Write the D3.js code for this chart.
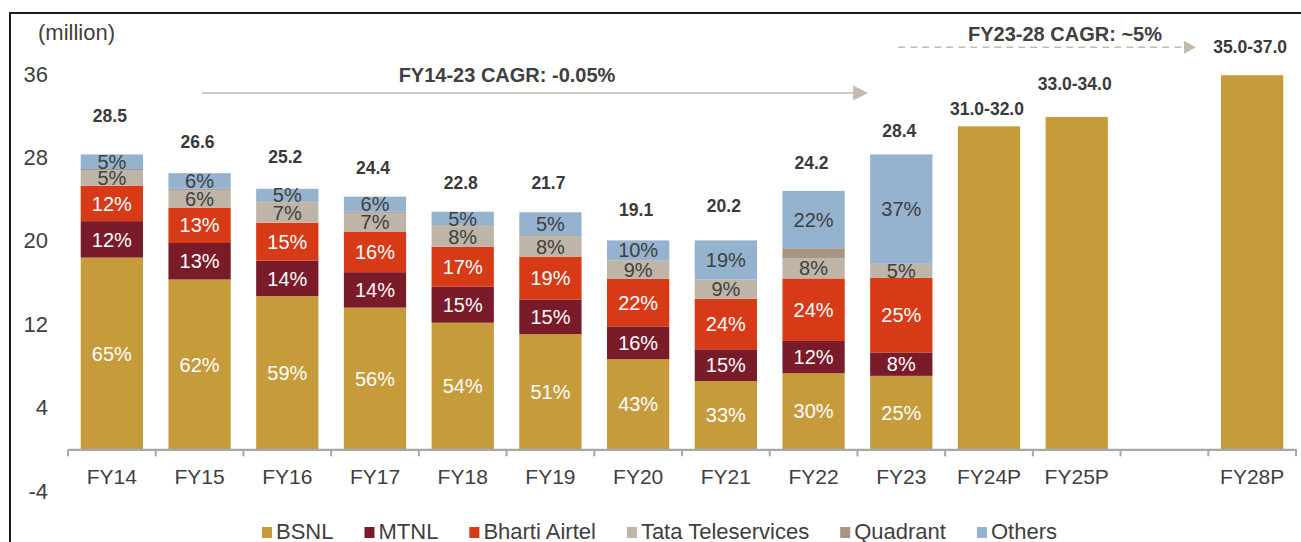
<!DOCTYPE html>
<html>
<head>
<meta charset="utf-8">
<script src="https://cdn.jsdelivr.net/npm/d3@7"></script>
<style>
html, body { margin: 0; padding: 0; background: #fff; }
svg { display: block; font-family: "Liberation Sans", Arial, Helvetica, sans-serif; }
</style>
</head>
<body>
<svg id="chart" width="1301" height="542"></svg>
<script>
// ---------------- DATA ----------------
const categories = ["FY14","FY15","FY16","FY17","FY18","FY19","FY20","FY21","FY22","FY23","FY24P","FY25P","","FY28P"];
const actualYears = ["FY14","FY15","FY16","FY17","FY18","FY19","FY20","FY21","FY22","FY23"];
const seriesNames = ["BSNL","MTNL","Bharti Airtel","Tata Teleservices","Quadrant","Others"];

// subscribers, million
const bsnl     = [18.4, 16.3, 14.7, 13.6, 12.15, 11.05, 8.65, 6.55, 7.3, 7.05];
const mtnl     = [3.5, 3.5, 3.4, 3.4, 3.45, 3.3, 3.15, 3.05, 3.1, 2.25];
const airtel   = [3.4, 3.4, 3.65, 3.9, 3.85, 4.15, 4.55, 4.85, 6.0, 7.15];
const tata     = [1.5, 1.7, 1.95, 1.8, 1.95, 1.95, 1.8, 1.85, 1.95, 1.35];
const quadrant = [0.1, 0.1, 0.1, 0.1, 0.1, 0.1, 0, 0, 0.95, 0];
const others   = [1.4, 1.5, 1.2, 1.45, 1.3, 2.2, 1.9, 3.75, 5.5, 10.5];

// share labels (%)
const bsnlPct     = [65, 62, 59, 56, 54, 51, 43, 33, 30, 25];
const mtnlPct     = [12, 13, 14, 14, 15, 15, 16, 15, 12, 8];
const airtelPct   = [12, 13, 15, 16, 17, 19, 22, 24, 24, 25];
const tataPct     = [5, 6, 7, 7, 8, 8, 9, 9, 8, 5];
const quadrantPct = [null, null, null, null, null, null, null, null, null, null];
const othersPct   = [5, 6, 5, 6, 5, 5, 10, 19, 22, 37];

const projYears  = ["FY24P","FY25P","FY28P"];
const projValues = [31.0, 31.9, 35.9];

const totalYears  = ["FY14","FY15","FY16","FY17","FY18","FY19","FY20","FY21","FY22","FY23","FY24P","FY25P","FY28P"];
const totalLabels = ["28.5","26.6","25.2","24.4","22.8","21.7","19.1","20.2","24.2","28.4","31.0-32.0","33.0-34.0","35.0-37.0"];

const yTicks = [-4, 4, 12, 20, 28, 36];
const yUnit = "(million)";
const cagrPast = "FY14-23 CAGR: -0.05%";
const cagrFuture = "FY23-28 CAGR: ~5%";

// ---------------- STYLE / LAYOUT ----------------
const colors = ["#C69B3C", "#7A1B2A", "#D73A16", "#BEB5A8", "#A89583", "#95B3CE"];
const labelColors = ["#ffffff", "#ffffff", "#ffffff", "#404040", "#404040", "#404040"];
const textColor = "#404040";
const labelLift = [32, 25, 26, 23, 23, 23, 24, 28, 22, 17, 11, 27, 22];

const svg = d3.select("#chart");

const x = d3.scaleBand()
  .domain(categories)
  .range([68, 1296])
  .paddingInner(0.29)
  .paddingOuter(0.145);

const y = d3.scaleLinear()
  .domain([-4, 36])
  .range([491.0, 74.2]);

// ---------------- frame ----------------
svg.append("line").attr("x1", 10).attr("x2", 1301).attr("y1", 13).attr("y2", 13)
  .attr("stroke", "#1e1e1e").attr("stroke-width", 2);
svg.append("line").attr("x1", 10).attr("x2", 10).attr("y1", 12).attr("y2", 542)
  .attr("stroke", "#1e1e1e").attr("stroke-width", 2);

// ---------------- stacked bars ----------------
const keys = ["bsnl","mtnl","airtel","tata","quadrant","others"];
const seriesArrays = [bsnl, mtnl, airtel, tata, quadrant, others];
const pctArrays = [bsnlPct, mtnlPct, airtelPct, tataPct, quadrantPct, othersPct];

const table = actualYears.map((yr, i) => {
  const row = { year: yr };
  keys.forEach((k, j) => { row[k] = seriesArrays[j][i]; });
  return row;
});

const stacked = d3.stack().keys(keys)(table);

const layers = svg.append("g").selectAll("g")
  .data(stacked)
  .join("g")
  .attr("fill", (d, i) => colors[i]);

layers.selectAll("rect")
  .data(d => d)
  .join("rect")
  .attr("x", d => x(d.data.year))
  .attr("width", x.bandwidth())
  .attr("y", d => y(d[1]))
  .attr("height", d => Math.max(0, y(d[0]) - y(d[1])));

// segment labels
stacked.forEach((layer, j) => {
  svg.append("g").selectAll("text")
    .data(layer.filter((d, i) => pctArrays[j][i] != null))
    .join("text")
    .attr("x", d => x(d.data.year) + x.bandwidth() / 2)
    .attr("y", d => (y(d[0]) + y(d[1])) / 2)
    .attr("dy", "0.36em")
    .attr("text-anchor", "middle")
    .attr("font-size", 20)
    .attr("fill", labelColors[j])
    .text(d => pctArrays[j][actualYears.indexOf(d.data.year)] + "%");
});

// projected bars
svg.append("g").selectAll("rect")
  .data(projYears.map((yr, i) => ({ year: yr, value: projValues[i] })))
  .join("rect")
  .attr("x", d => x(d.year))
  .attr("width", x.bandwidth())
  .attr("y", d => y(d.value))
  .attr("height", d => y(0) - y(d.value))
  .attr("fill", colors[0]);

// totals
const barTop = yr => {
  const i = actualYears.indexOf(yr);
  if (i >= 0) return stacked[stacked.length - 1][i][1];
  return projValues[projYears.indexOf(yr)];
};
svg.append("g").selectAll("text")
  .data(totalYears)
  .join("text")
  .attr("x", d => x(d) + x.bandwidth() / 2 - 2)
  .attr("y", (d, i) => y(barTop(d)) - labelLift[i])
  .attr("text-anchor", "middle")
  .attr("font-size", 17.5)
  .attr("font-weight", "bold")
  .attr("fill", "#3a3a3a")
  .text((d, i) => totalLabels[i]);

// ---------------- axes ----------------
const xAxis = d3.axisBottom(x).tickSize(0).tickPadding(20).tickSizeOuter(0);
const gx = svg.append("g").attr("transform", `translate(0,${y(0)})`).call(xAxis);
gx.select(".domain").attr("stroke", "#a8a8a8").attr("stroke-width", 2.2);
gx.selectAll(".tick text").attr("font-size", 21).attr("fill", textColor)
  .attr("font-family", "Liberation Sans, Arial, sans-serif");
// boundary tick marks
const boundaries = d3.range(categories.length + 1).map(i => x.range()[0] + i * x.step());
gx.selectAll(".bound")
  .data(boundaries)
  .join("line")
  .attr("class", "bound")
  .attr("x1", d => d).attr("x2", d => d)
  .attr("y1", 0).attr("y2", 7)
  .attr("stroke", "#a8a8a8").attr("stroke-width", 2);

const yAxis = d3.axisLeft(y).tickValues(yTicks).tickSize(0).tickPadding(0).tickFormat(d => String(d));
const gy = svg.append("g").attr("transform", "translate(48,0)").call(yAxis);
gy.select(".domain").remove();
gy.selectAll(".tick text").attr("font-size", 22).attr("fill", textColor)
  .attr("font-family", "Liberation Sans, Arial, sans-serif");

svg.append("text").attr("x", 38).attr("y", 40).attr("font-size", 22).attr("fill", textColor).text(yUnit);

// ---------------- CAGR annotations ----------------
const annColor = "#C5BBAC";
// past
const pY = y(34.2);
const pX1 = x("FY15") + x.bandwidth() / 2 + 2;
const pX2 = x("FY23") - 2;
svg.append("line").attr("x1", pX1).attr("x2", pX2 - 14).attr("y1", pY).attr("y2", pY)
  .attr("stroke", annColor).attr("stroke-width", 1.6);
svg.append("path").attr("d", `M${pX2 - 15},${pY - 7.5} L${pX2},${pY} L${pX2 - 15},${pY + 7.5} Z`).attr("fill", annColor);
svg.append("text").attr("x", 507).attr("y", 81.7).attr("text-anchor", "middle")
  .attr("font-size", 20).attr("font-weight", "bold").attr("fill", textColor).text(cagrPast);

// future
const fY = 47.3;
const fX1 = x("FY23") + x.bandwidth() / 2 - 3;
const fX2 = x("FY28P") - 25;
svg.append("line").attr("x1", fX1).attr("x2", fX2 - 12).attr("y1", fY).attr("y2", fY)
  .attr("stroke", annColor).attr("stroke-width", 1.6).attr("stroke-dasharray", "7,5");
svg.append("path").attr("d", `M${fX2 - 12},${fY - 6.5} L${fX2},${fY} L${fX2 - 12},${fY + 6.5} Z`).attr("fill", annColor);
svg.append("text").attr("x", 1065).attr("y", 40.5).attr("text-anchor", "middle")
  .attr("font-size", 20).attr("font-weight", "bold").attr("fill", textColor).text(cagrFuture);

// ---------------- legend ----------------
const legend = svg.append("g");
let lx = 262;
seriesNames.forEach((name, i) => {
  legend.append("rect").attr("x", lx).attr("y", 527).attr("width", 10).attr("height", 11).attr("fill", colors[i]);
  const t = legend.append("text").attr("x", lx + 14).attr("y", 539)
    .attr("font-size", 22).attr("fill", textColor).text(name);
  lx += 14 + t.node().getComputedTextLength() + 31;
});
</script>
</body>
</html>
